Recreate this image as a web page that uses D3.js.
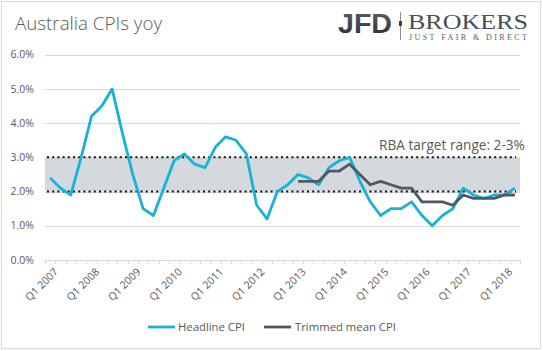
<!DOCTYPE html>
<html><head><meta charset="utf-8">
<script src="https://cdn.jsdelivr.net/npm/d3@7"></script>
<style>html,body{margin:0;padding:0;background:#fff;}svg{display:block;}</style>
</head><body>
<svg id="c" width="543" height="351"></svg>
<script>
const categories = ["Q1 2007","Q2 2007","Q3 2007","Q4 2007","Q1 2008","Q2 2008","Q3 2008","Q4 2008",
"Q1 2009","Q2 2009","Q3 2009","Q4 2009","Q1 2010","Q2 2010","Q3 2010","Q4 2010",
"Q1 2011","Q2 2011","Q3 2011","Q4 2011","Q1 2012","Q2 2012","Q3 2012","Q4 2012",
"Q1 2013","Q2 2013","Q3 2013","Q4 2013","Q1 2014","Q2 2014","Q3 2014","Q4 2014",
"Q1 2015","Q2 2015","Q3 2015","Q4 2015","Q1 2016","Q2 2016","Q3 2016","Q4 2016",
"Q1 2017","Q2 2017","Q3 2017","Q4 2017","Q1 2018","Q2 2018"];
const headline = [2.4,2.1,1.9,3.0,4.2,4.5,5.0,3.7,2.5,1.5,1.3,2.1,2.9,3.1,2.8,2.7,
3.3,3.6,3.5,3.1,1.6,1.2,2.0,2.2,2.5,2.4,2.2,2.7,2.9,3.0,2.3,1.7,
1.3,1.5,1.5,1.7,1.3,1.0,1.3,1.5,2.1,1.9,1.8,1.9,1.9,2.1];
const trimmed = [null,null,null,null,null,null,null,null,null,null,null,null,
null,null,null,null,null,null,null,null,null,null,null,null,
2.3,2.3,2.3,2.6,2.6,2.8,2.5,2.2,2.3,2.2,2.1,2.1,1.7,1.7,1.7,1.6,1.9,1.8,1.8,1.8,1.9,1.9];
const tickLabels = ["Q1 2007","Q1 2008","Q1 2009","Q1 2010","Q1 2011","Q1 2012","Q1 2013","Q1 2014","Q1 2015","Q1 2016","Q1 2017","Q1 2018"];
const yTicks = [0,1,2,3,4,5,6];
const targetRange = [2,3];
const seriesNames = ["Headline CPI","Trimmed mean CPI"];

const svg = d3.select("#c");
const FONT = "'Open Sans', sans-serif";
const TXT = "#595959";
const C1 = "#17b2da", C2 = "#4e5964";

function fit(sel, w){ const n=sel.node(); const cur=n.getComputedTextLength(); const fs=parseFloat(sel.attr("font-size")); sel.attr("font-size", (fs*w/cur).toFixed(2)); return sel; }

// border
svg.append("rect").attr("x",1.5).attr("y",1.5).attr("width",539).attr("height",347)
  .attr("fill","#fff").attr("stroke","#d9d9d9").attr("stroke-width",1);

const x = d3.scaleBand().domain(categories).range([45,520]).paddingInner(0).paddingOuter(0);
const y = d3.scaleLinear().domain([0,6]).range([260,54.7]);
const cx = c => x(c) + x.bandwidth()/2;

// gridlines
svg.append("g").selectAll("line").data(yTicks.filter(d=>d>0)).join("line")
  .attr("x1",45).attr("x2",520).attr("y1",d=>Math.round(y(d))+0.5).attr("y2",d=>Math.round(y(d))+0.5)
  .attr("stroke","#d9d9d9").attr("stroke-width",1);

// target band
svg.append("rect").attr("x",45).attr("width",475)
  .attr("y",y(targetRange[1])).attr("height",y(targetRange[0])-y(targetRange[1]))
  .attr("fill","#d3d9dc");
svg.append("g").selectAll("line").data(targetRange).join("line")
  .attr("x1",47).attr("x2",516).attr("y1",d=>y(d)).attr("y2",d=>y(d))
  .attr("stroke","#111").attr("stroke-width",2).attr("stroke-dasharray","2,3.2");

// y axis labels
svg.append("g").selectAll("text").data(yTicks).join("text")
  .attr("x",34).attr("y",d=>y(d)).attr("dy","0.35em").attr("text-anchor","end")
  .attr("font-family",FONT).attr("font-size",10.5).attr("fill",TXT)
  .text(d=>d.toFixed(1)+"%");

// x axis
const xAxis = d3.axisBottom(x).tickValues([]).tickSize(0);
const gx = svg.append("g").attr("transform","translate(0,260)").call(xAxis);
gx.select(".domain").attr("stroke","#d9d9d9").attr("d","M45,0.5H520");
const bounds = categories.map(c=>x(c)).concat([520]);
gx.selectAll("line.tk").data(bounds).join("line").attr("class","tk")
  .attr("x1",d=>Math.round(d)+0.5).attr("x2",d=>Math.round(d)+0.5).attr("y1",0).attr("y2",4)
  .attr("stroke","#d9d9d9");
gx.selectAll("text.lb").data(tickLabels).join("text").attr("class","lb")
  .attr("transform",d=>`translate(${cx(d)+3},${7}) rotate(-45)`)
  .attr("text-anchor","end").attr("dy","0.75em")
  .attr("font-family",FONT).attr("font-size",10.5).attr("fill",TXT).text(d=>d);

// lines
const line = d3.line().defined(d=>d[1]!=null).x(d=>cx(d[0])).y(d=>y(d[1]));
svg.append("path").datum(categories.map((c,i)=>[c,headline[i]]))
  .attr("d",line).attr("fill","none").attr("stroke",C1).attr("stroke-width",2.8).attr("stroke-linejoin","round");
svg.append("path").datum(categories.map((c,i)=>[c,trimmed[i]]))
  .attr("d",line).attr("fill","none").attr("stroke",C2).attr("stroke-width",2.8).attr("stroke-linejoin","round");

// RBA text
fit(svg.append("text").attr("x",379).attr("y",150).attr("font-family",FONT).attr("font-size",13)
  .attr("fill",TXT).text("RBA target range: 2-3%"),146);

// title
fit(svg.append("text").attr("x",15).attr("y",30).attr("font-family",FONT).attr("font-weight",300).attr("font-size",17)
  .attr("fill",TXT).text("Australia CPIs yoy"),147);

// legend
const leg = [{n:seriesNames[0],c:C1,x:148,tx:178,w:67},{n:seriesNames[1],c:C2,x:264,tx:295,w:101}];
leg.forEach(l=>{
  svg.append("line").attr("x1",l.x).attr("x2",l.x+27).attr("y1",327).attr("y2",327).attr("stroke",l.c).attr("stroke-width",2.8);
  fit(svg.append("text").attr("x",l.tx).attr("y",327).attr("dy","0.35em").attr("font-family",FONT).attr("font-size",11)
    .attr("fill",TXT).text(l.n), l.w);
});

// logo
const defs = svg.append("defs");
const gr = defs.append("linearGradient").attr("id","lg").attr("x1",0).attr("x2",0).attr("y1",0).attr("y2",1);
gr.append("stop").attr("offset","0%").attr("stop-color","#5b6169");
gr.append("stop").attr("offset","100%").attr("stop-color","#2a2f35");
const jfd = svg.append("text").attr("x",338).attr("y",33).attr("font-family","'Liberation Sans Narrow','Liberation Sans',sans-serif")
  .attr("font-weight",700).attr("font-size",28).attr("fill","url(#lg)").text("JFD");
jfd.attr("textLength",54).attr("lengthAdjust","spacingAndGlyphs");
svg.append("line").attr("x1",400.5).attr("x2",400.5).attr("y1",12).attr("y2",40).attr("stroke","#8a8f95").attr("stroke-width",1);
svg.append("rect").attr("x",399).attr("y",21).attr("width",3).attr("height",5).attr("fill","#3a3f45");
svg.append("text").attr("x",408).attr("y",29).attr("font-family","'Liberation Serif',serif").attr("font-size",22)
  .attr("fill","#4a4f56").attr("textLength",120).attr("lengthAdjust","spacingAndGlyphs").text("BROKERS");
svg.append("text").attr("x",409).attr("y",40).attr("font-family","'Liberation Serif',serif").attr("font-size",8)
  .attr("fill","#5a5f66").attr("textLength",118).attr("lengthAdjust","spacing").text("JUST FAIR & DIRECT");
</script>
</body></html>
